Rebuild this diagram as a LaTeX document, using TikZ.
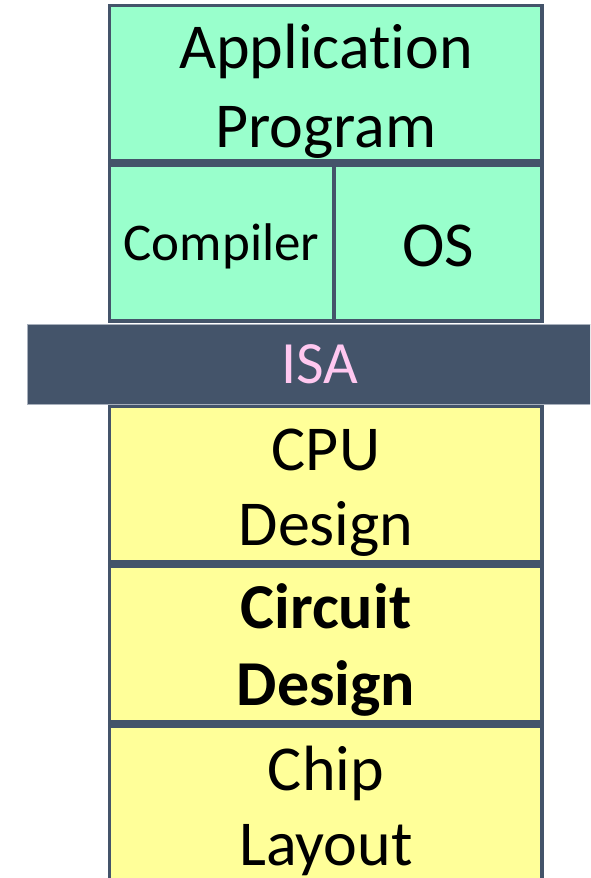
\documentclass[tikz,border=0pt]{standalone}
\usepackage{fontspec}
\setmainfont{Carlito}[Ligatures=NoCommon]
\definecolor{bordc}{HTML}{44546A}
\definecolor{greenf}{HTML}{99FFCC}
\definecolor{yellowf}{HTML}{FFFF99}
\definecolor{isapink}{HTML}{FFC8F0}
\definecolor{isaedge}{HTML}{A8B0BC}
\begin{document}
\begin{tikzpicture}[x=1pt,y=-1pt,
  layer/.style={draw=bordc,line width=3.5pt},
  big/.style={font=\fontsize{64}{76}\selectfont,anchor=base,inner sep=0pt},
  small/.style={font=\fontsize{53}{60}\selectfont,anchor=base,inner sep=0pt}]
\useasboundingbox (0,0) rectangle (590,878);
\begin{scope}
\clip (0,0) rectangle (590,878);
% top green box
\draw[layer,fill=greenf] (109.5,5.5) rectangle (542,161);
\node[big] (app1) at (326,68) {Application};
\node[big] (app2) at (326,147) {Program};
% compiler / OS box
\draw[layer,fill=greenf] (109.5,165) rectangle (542,321);
\draw[layer] (334,165) -- (334,321);
\node[small] (comp) at (221.5,260) {Compiler};
\node[big] (os) at (438.5,266) {OS};
% ISA bar
\draw[draw=isaedge,line width=1pt,fill=bordc] (27,324) rectangle (620,404);
\node[font=\fontsize{60}{70}\selectfont,anchor=base,inner sep=0pt,text=isapink] (isa) at (320,383) {ISA};
% yellow boxes
\draw[layer,fill=yellowf] (109.5,406.5) rectangle (542,562);
\node[big] (cpu1) at (326,470) {CPU};
\node[big] (cpu2) at (326,545) {Design};
\draw[layer,fill=yellowf] (109.5,566) rectangle (542,722);
\node[big,font=\fontsize{64}{76}\selectfont\bfseries] (cir1) at (326,628) {Circuit};
\node[big,font=\fontsize{64}{76}\selectfont\bfseries] (cir2) at (326,705) {Design};
\draw[layer,fill=yellowf] (109.5,726) rectangle (542,890);
\node[big] (chip1) at (326,790) {Chip};
\node[big] (chip2) at (326,865) {Layout};
\end{scope}
\end{tikzpicture}
\end{document}
